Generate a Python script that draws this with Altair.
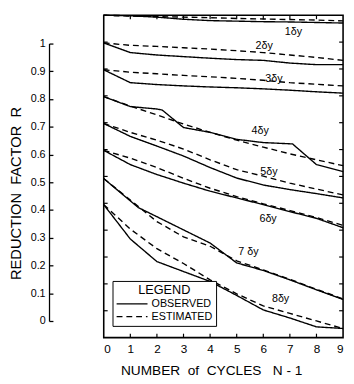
import altair as alt
import pandas as pd

FONT = "Liberation Sans"
SP = "\u00a0"

# ---- data (frame units: each curve drawn 0.1 lower than the previous) ----
N_STD = [0, 1, 2, 3, 4, 5, 6, 7, 8, 9]

d1_obs = [1.200, 1.198, 1.193, 1.185, 1.180, 1.178, 1.176, 1.175, 1.173, 1.171]
d1_est = [1.200, 1.197, 1.195, 1.193, 1.191, 1.188, 1.186, 1.184, 1.182, 1.179]

d2_obs = [1.097, 1.061, 1.052, 1.046, 1.040, 1.035, 1.032, 1.022, 1.016, 1.016]
d2_est = [1.097, 1.088, 1.084, 1.079, 1.074, 1.068, 1.061, 1.052, 1.043, 1.032]

d3_obs = [0.997, 0.949, 0.942, 0.937, 0.933, 0.930, 0.926, 0.921, 0.915, 0.910]
d3_est = [0.997, 0.988, 0.982, 0.976, 0.971, 0.965, 0.958, 0.949, 0.943, 0.937]

d4_obs_N = [0, 1, 2, 2.2, 3, 4, 5, 6, 7.1, 8, 9]
d4_obs = [0.897, 0.860, 0.851, 0.847, 0.782, 0.764, 0.738, 0.726, 0.721, 0.644, 0.618]
d4_est = [0.897, 0.862, 0.829, 0.795, 0.764, 0.735, 0.709, 0.684, 0.662, 0.640]

d5_obs = [0.797, 0.749, 0.713, 0.676, 0.633, 0.594, 0.568, 0.551, 0.536, 0.520]
d5_est = [0.797, 0.764, 0.735, 0.702, 0.662, 0.625, 0.601, 0.575, 0.553, 0.531]

d6_obs = [0.697, 0.644, 0.607, 0.575, 0.545, 0.520, 0.495, 0.469, 0.444, 0.409]
d6_est = [0.697, 0.668, 0.633, 0.593, 0.556, 0.525, 0.498, 0.473, 0.447, 0.418]

d7_obs_N = [0, 1.3, 2, 3, 4, 5, 6, 7, 8, 9]
d7_obs = [0.592, 0.484, 0.450, 0.401, 0.352, 0.278, 0.250, 0.215, 0.178, 0.142]
d7_est = [0.592, 0.512, 0.432, 0.375, 0.340, 0.286, 0.252, 0.217, 0.180, 0.144]

d8_obs = [0.495, 0.367, 0.283, 0.246, 0.209, 0.157, 0.103, 0.073, 0.040, 0.034]
d8_est = [0.495, 0.404, 0.331, 0.276, 0.215, 0.163, 0.118, 0.090, 0.062, 0.034]

label_text = ["1δy", "2δy", "3δy", "4δy", "5δy", "6δy", "7 δy", "8δy"]
label_N = [7.13, 6.03, 6.40, 5.88, 6.21, 6.18, 5.44, 6.65]
label_R = [1.138, 1.084, 0.964, 0.767, 0.618, 0.440, 0.320, 0.142]

x_ticks = [0, 1, 2, 3, 4, 5, 6, 7, 8, 9]
frame_N = [1, 2, 3, 4, 5, 6, 7, 8]
frame_R = [0.1, 0.2, 0.3, 0.4, 0.5, 0.6, 0.7, 0.8, 0.9, 1.0, 1.1]
r_ticks = [0.0, 0.1, 0.2, 0.3, 0.4, 0.5, 0.6, 0.7, 0.8, 0.9, 1.0]

# ---- build tables ----
series = [
    ("1", N_STD, d1_obs, d1_est), ("2", N_STD, d2_obs, d2_est),
    ("3", N_STD, d3_obs, d3_est), ("4", d4_obs_N, d4_obs, d4_est),
    ("5", N_STD, d5_obs, d5_est), ("6", N_STD, d6_obs, d6_est),
    ("7", d7_obs_N, d7_obs, d7_est), ("8", N_STD, d8_obs, d8_est),
]
rows = []
for name, nobs, obs, est in series:
    for n, r in zip(nobs, obs):
        rows.append({"curve": name, "type": "OBSERVED", "N": n, "R": r})
    for n, r in zip(N_STD, est):
        rows.append({"curve": name, "type": "ESTIMATED", "N": n, "R": r})
df = pd.DataFrame(rows)
lab_df = pd.DataFrame({"N": label_N, "R": label_R, "label": label_text})

W, H = 245, 330
xscale = alt.Scale(domain=[0, 9], nice=False, zero=False)
yscale = alt.Scale(domain=[0, 1.2], nice=False)
xtitle = SP.join(["NUMBER", "", "of", "", "CYCLES", "", "", "N", "-", "1"])
xaxis = alt.Axis(values=x_ticks, ticks=False, domain=False, grid=False,
                 labelFontSize=12, labelPadding=6, labelFont=FONT, labelColor="black",
                 title=xtitle, titleFont=FONT, titleFontSize=14,
                 titleFontWeight="normal", titleColor="black", titlePadding=10,
                 titleX=110, titleAlign="center")


def X(field="N:Q"):
    return alt.X(field, scale=xscale, axis=xaxis)


def Y(field="R:Q"):
    return alt.Y(field, scale=yscale, axis=None)


curves = alt.Chart(df).mark_line(color="black", strokeWidth=1.4).encode(
    x=X(), y=Y(),
    strokeDash=alt.StrokeDash(
        "type:N",
        scale=alt.Scale(domain=["OBSERVED", "ESTIMATED"], range=[[1, 0], [6, 4]]),
        legend=alt.Legend(title="LEGEND", orient="none", legendX=9, legendY=272,
                          strokeColor="black", fillColor="white", padding=3,
                          symbolType="stroke", symbolSize=1000, symbolStrokeWidth=1.4,
                          symbolStrokeColor="black", clipHeight=13, rowPadding=0,
                          titleFont=FONT, titleFontSize=13, titleFontWeight="normal",
                          titleColor="black", titlePadding=1, titleAnchor="middle",
                          labelFont=FONT, labelFontSize=11, labelColor="black",
                          labelOffset=3),
    ),
    detail="curve:N",
)

labels = alt.Chart(lab_df).mark_text(font=FONT, fontSize=11, color="black").encode(
    x=X(), y=Y(), text="label:N")

ftick_df = pd.DataFrame({"R": frame_R})
ntick_df = pd.DataFrame({"N": frame_N})
rule_style = dict(color="black", strokeWidth=1.2)
left_ticks = alt.Chart(ftick_df).mark_rule(**rule_style).encode(
    y=Y(), x=alt.value(0), x2=alt.value(4))
right_ticks = alt.Chart(ftick_df).mark_rule(**rule_style).encode(
    y=Y(), x=alt.value(W - 4), x2=alt.value(W))
top_ticks = alt.Chart(ntick_df).mark_rule(**rule_style).encode(
    x=X(), y=alt.value(0), y2=alt.value(4))
bottom_ticks = alt.Chart(ntick_df).mark_rule(**rule_style).encode(
    x=X(), y=alt.value(H - 4), y2=alt.value(H))

main = alt.layer(curves, labels, left_ticks, right_ticks, top_ticks, bottom_ticks)

# ---- separate "REDUCTION FACTOR R" scale bar on the left ----
lt_df = pd.DataFrame({"R": r_ticks})
ytitle = SP.join(["REDUCTION", "", "FACTOR", "", "R"])
# bar line + labels + title
axis_a = alt.Axis(orient="left", offset=56, values=r_ticks, format=".1~f",
                  ticks=False, domain=True, domainColor="black", domainWidth=1.3,
                  grid=False, labelPadding=4,
                  labelFont=FONT, labelFontSize=11, labelColor="black",
                  title=ytitle, titleFont=FONT, titleFontSize=15,
                  titleFontWeight="normal", titleColor="black",
                  titleX=-34, titleY=182, titleBaseline="middle", titleAlign="center")
# inward-pointing ticks of the bar
axis_b = alt.Axis(orient="left", offset=52, values=r_ticks, labels=False, title=None,
                  ticks=True, tickSize=4, tickColor="black", tickWidth=1.3,
                  domain=False, grid=False)
bar_a = alt.Chart(lt_df).mark_point(opacity=0).encode(
    y=alt.Y("R:Q", scale=alt.Scale(domain=[0, 1], range=[313, 29], nice=False, zero=False),
            axis=axis_a))
bar_b = alt.Chart(lt_df).mark_point(opacity=0).encode(
    y=alt.Y("R:Q", scale=alt.Scale(domain=[0, 1], range=[313, 29], nice=False, zero=False),
            axis=axis_b))

chart = alt.layer(main, bar_a, bar_b).resolve_scale(y="independent").properties(
    width=W, height=H, autosize="none",
    padding={"left": 98, "top": 3, "right": 3, "bottom": 40},
    background="white",
).configure_view(stroke="black", strokeWidth=1.6)

chart.save("out.html", embed_options={"renderer": "svg", "actions": False})
